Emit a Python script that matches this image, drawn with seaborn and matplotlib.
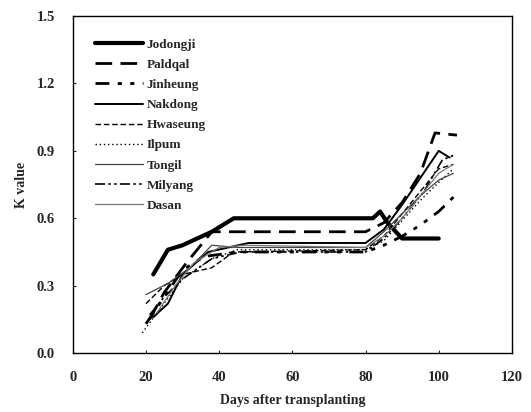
import numpy as np
import pandas as pd
import seaborn as sns
import matplotlib.pyplot as plt

varieties = ['Jodongji', 'Paldqal', 'Jinheung', 'Nakdong', 'Hwaseung',
             'Ilpum', 'Tongil', 'Milyang', 'Dasan']

# dias despues del trasplante y valor K
jodongji_d = [22, 26, 30, 38, 44, 82, 84, 86, 90, 100]
jodongji_k = [0.35, 0.46, 0.48, 0.54, 0.60, 0.60, 0.63, 0.58, 0.51, 0.51]
paldqal_d = [21, 25, 31, 38, 80, 85, 90, 95, 99, 105]
paldqal_k = [0.15, 0.27, 0.40, 0.54, 0.54, 0.58, 0.67, 0.80, 0.98, 0.97]
jinheung_d = [20, 25, 30, 36, 45, 80, 85, 90, 95, 100, 105]
jinheung_k = [0.13, 0.25, 0.37, 0.43, 0.45, 0.45, 0.48, 0.52, 0.57, 0.63, 0.71]
nakdong_d = [22, 26, 30, 37, 48, 80, 85, 90, 95, 100, 103]
nakdong_k = [0.16, 0.22, 0.35, 0.45, 0.49, 0.49, 0.55, 0.66, 0.78, 0.90, 0.87]
hwaseung_d = [20, 25, 30, 38, 44, 80, 85, 90, 95, 100, 104]
hwaseung_k = [0.22, 0.30, 0.35, 0.38, 0.45, 0.46, 0.52, 0.62, 0.72, 0.82, 0.84]
ilpum_d = [19, 24, 30, 38, 45, 80, 85, 90, 95, 100, 104]
ilpum_k = [0.09, 0.20, 0.33, 0.42, 0.46, 0.46, 0.50, 0.59, 0.68, 0.76, 0.82]
tongil_d = [20, 26, 32, 38, 45, 80, 85, 90, 95, 100, 104]
tongil_k = [0.26, 0.31, 0.38, 0.48, 0.47, 0.47, 0.54, 0.62, 0.70, 0.77, 0.80]
milyang_d = [21, 25, 30, 38, 46, 80, 85, 90, 96, 101, 104]
milyang_k = [0.17, 0.25, 0.33, 0.42, 0.45, 0.45, 0.51, 0.60, 0.72, 0.86, 0.88]
dasan_d = [23, 28, 33, 40, 47, 80, 85, 90, 95, 100, 104]
dasan_k = [0.18, 0.30, 0.40, 0.47, 0.48, 0.47, 0.52, 0.60, 0.70, 0.80, 0.84]

days = [jodongji_d, paldqal_d, jinheung_d, nakdong_d, hwaseung_d,
        ilpum_d, tongil_d, milyang_d, dasan_d]
kvals = [jodongji_k, paldqal_k, jinheung_k, nakdong_k, hwaseung_k,
         ilpum_k, tongil_k, milyang_k, dasan_k]

x_ticks = [0, 20, 40, 60, 80, 100, 120]
y_ticks = [0.0, 0.3, 0.6, 0.9, 1.2, 1.5]

# estilo de cada linea
estilos = {
    'Jodongji': dict(lw=3.0, ls='-', color='black'),
    'Paldqal': dict(lw=2.0, ls=(0, (6, 3)), color='black'),
    'Jinheung': dict(lw=2.0, ls=(0, (5, 3, 1.5, 3, 1.5, 3)), color='black'),
    'Nakdong': dict(lw=1.4, ls='-', color='black'),
    'Hwaseung': dict(lw=1.0, ls=(0, (4, 2)), color='black'),
    'Ilpum': dict(lw=1.0, ls=(0, (1, 2)), color='black'),
    'Tongil': dict(lw=0.9, ls='-', color='#444444'),
    'Milyang': dict(lw=1.2, ls=(0, (6, 2, 1.5, 2, 1.5, 2)), color='black'),
    'Dasan': dict(lw=0.9, ls='-', color='#777777'),
}

sns.set_style('ticks')
plt.rcParams['font.family'] = ['Liberation Serif', 'DejaVu Serif']
plt.rcParams['font.weight'] = 'bold'

fig, ax = plt.subplots(figsize=(5.31, 4.12), dpi=100)
fig.subplots_adjust(left=0.137, right=0.964, bottom=0.143, top=0.961)

for v, d, k in zip(varieties, days, kvals):
    df = pd.DataFrame({'dias': d, 'K': k})
    st = estilos[v]
    sns.lineplot(x='dias', y='K', data=df, ax=ax, sort=False, estimator=None,
                 color=st['color'], linewidth=st['lw'], linestyle=st['ls'],
                 label=v)

ax.set_xlim(0, 120)
ax.set_ylim(0, 1.5)
ax.set_xticks(x_ticks)
ax.set_yticks(y_ticks)
ax.set_yticklabels([f'{t:.1f}' for t in y_ticks])
ax.tick_params(direction='in', length=2, labelsize=10.5, pad=13)
for lab in ax.get_xticklabels() + ax.get_yticklabels():
    lab.set_fontweight('bold')
ax.set_xlabel('Days after transplanting', fontsize=10, fontweight='bold', labelpad=7)
ax.set_ylabel('K value', fontsize=10, fontweight='bold', labelpad=6)
for s in ax.spines.values():
    s.set_linewidth(1.0)
    s.set_color('black')

leg = ax.legend(loc='upper left', frameon=False, handlelength=3.6,
                handletextpad=0.3, labelspacing=0.6,
                borderaxespad=1.3, prop={'weight': 'bold', 'size': 9.5})

fig.savefig('out.png', dpi=100)
